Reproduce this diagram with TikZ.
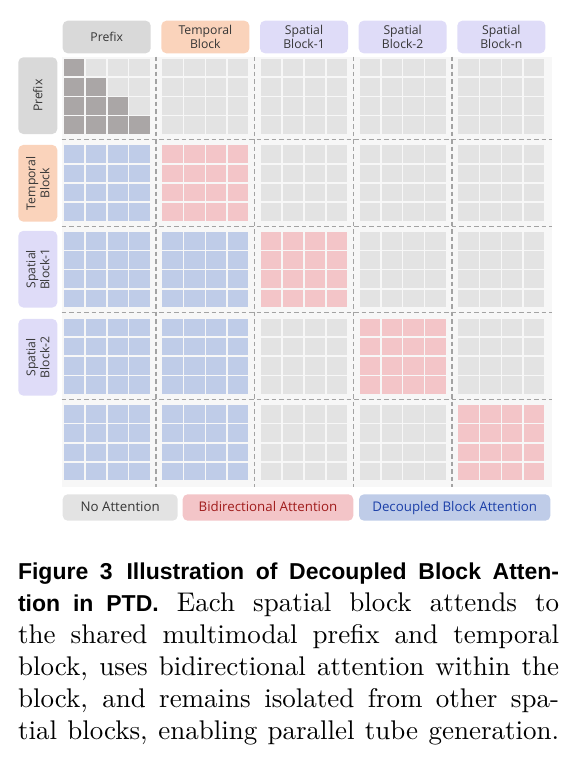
\documentclass[tikz,border=0pt]{standalone}
\usepackage{fontspec}
\newfontfamily\labfont{Open Sans}
\newfontfamily\capsans{Liberation Sans}
\definecolor{hgray}{HTML}{D9D9D9}
\definecolor{horange}{HTML}{FAD3BB}
\definecolor{hpurple}{HTML}{DFDCF8}
\definecolor{cgray}{HTML}{E3E3E3}
\definecolor{cdark}{HTML}{AAA6A6}
\definecolor{cblue}{HTML}{BFCCE8}
\definecolor{cpink}{HTML}{F3C5C8}
\definecolor{bggray}{HTML}{F7F7F7}
\definecolor{dashgray}{HTML}{A3A3A3}
\definecolor{labtext}{HTML}{363636}
\definecolor{redtext}{HTML}{A01C1C}
\definecolor{bluetext}{HTML}{1B3FA8}
\newcommand\pdtblock[3]{%
  \foreach \i in {0,...,3}{\foreach \j in {0,...,3}{%
    \fill[#3] ({63.7+98.65*#2+21.9*\j},{58.7+86.6*#1+19.2*\i}) rectangle ++(20.3,17.6);
  }}}
\begin{document}
\begin{tikzpicture}[x=1pt,y=-1pt,
  hdr/.style={rounded corners=5pt, inner sep=0pt, minimum width=88pt, minimum height=32.6pt,
    font=\labfont\fontsize{12.2}{13.9}\selectfont, text=labtext, align=center},
  rowhdr/.style={rounded corners=5pt, inner sep=0pt, rotate=90, minimum width=76.7pt, minimum height=39pt,
    font=\labfont\fontsize{12.2}{13.9}\selectfont, text=labtext, align=center},
  legbox/.style={rounded corners=5pt, inner sep=0pt, minimum height=26.4pt,
    text height=0.72em, text depth=0pt, font=\labfont\fontsize{13.3}{15}\selectfont},
  sep/.style={draw=dashgray, line width=1.2pt, dash pattern=on 4.5pt off 3pt}]
\useasboundingbox (0,0) rectangle (574,764);
% background of the grid
\fill[bggray] (61.7,56.7) rectangle (552,486.7);
% cells
\foreach \i in {0,...,3}{\foreach \j in {0,...,3}{%
  \ifnum\j>\i
    \fill[cgray] ({63.7+21.9*\j},{58.7+19.2*\i}) rectangle ++(20.3,17.6);
  \else
    \fill[cdark] ({63.7+21.9*\j},{58.7+19.2*\i}) rectangle ++(20.3,17.6);
  \fi
}}
\foreach \C in {1,2,3,4}{\pdtblock{0}{\C}{cgray}}
\pdtblock{1}{0}{cblue}\pdtblock{1}{1}{cpink}
\foreach \C in {2,3,4}{\pdtblock{1}{\C}{cgray}}
\foreach \R in {2,3,4}{%
  \pdtblock{\R}{0}{cblue}\pdtblock{\R}{1}{cblue}%
  \foreach \C in {2,3,4}{%
    \ifnum\C=\R \pdtblock{\R}{\C}{cpink}\else\pdtblock{\R}{\C}{cgray}\fi}}
% dashed separators
\foreach \y in {139.5,226.1,312.7,399.3}{\draw[sep] (61.7,\y) -- (552,\y);}
\foreach \x in {156,254.65,353.3,451.95}{\draw[sep] (\x,56.7) -- (\x,486.7);}
% column headers
\node[hdr, fill=hgray] (hPrefix) at (106.7,37) {Prefix};
\node[hdr, fill=horange] (hTemporal) at (205.35,37) {Temporal\\Block};
\node[hdr, fill=hpurple] (hSpatialA) at (304,37) {Spatial\\Block-1};
\node[hdr, fill=hpurple] (hSpatialB) at (402.65,37) {Spatial\\Block-2};
\node[hdr, fill=hpurple] (hSpatialN) at (501.3,37) {Spatial\\Block-n};
% row headers
\node[rowhdr, fill=hgray] (rPrefix) at (37.8,95.65) {Prefix};
\node[rowhdr, fill=horange] (rTemporal) at (37.8,183.3) {Temporal\\Block};
\node[rowhdr, fill=hpurple] (rSpatialA) at (37.8,269.2) {Spatial\\Block-1};
\node[rowhdr, fill=hpurple] (rSpatialB) at (37.8,357.3) {Spatial\\Block-2};
% legend
\node[legbox, fill=cgray, text=labtext, minimum width=115pt] (lNone) at (120.2,507.5) {No Attention};
\node[legbox, fill=cpink, text=redtext, minimum width=170.6pt] (lBi) at (268,507.5) {Bidirectional Attention};
\node[legbox, fill=cblue, text=bluetext, minimum width=191.3pt] (lDec) at (454.7,507.5) {Decoupled Block Attention};
% caption
\begin{scope}[shift={(17.5,579.3)}]
\node[anchor=base west, inner sep=0pt, scale=2.7, text width=200.4pt, align=justify,
  font=\fontsize{10}{11.85}\selectfont] (caption) at (0,0)
  {\parfillskip=0pt {\capsans\bfseries\fontsize{8.52}{11.85}\selectfont Figure 3\hspace{0.6em}Illustration of Decoupled Block Atten-}\linebreak
   {\capsans\bfseries\fontsize{8.52}{11.85}\selectfont tion in PTD.} Each spatial block attends to\linebreak
   the shared multimodal prefix and temporal\linebreak
   block, uses bidirectional attention within the\linebreak
   block, and remains isolated from other spa-\linebreak
   tial blocks, enabling parallel tube generation.\par};
\end{scope}
\end{tikzpicture}
\end{document}
